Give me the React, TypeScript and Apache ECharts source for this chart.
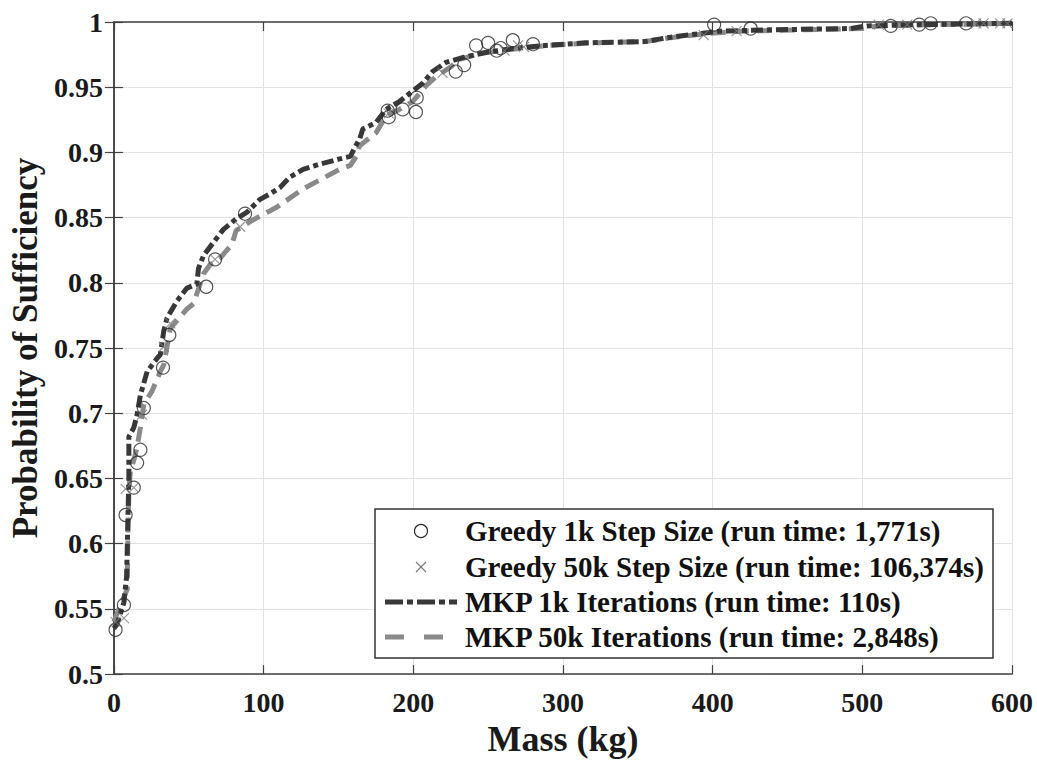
import React, { useEffect, useRef } from "react";
import * as echarts from "echarts";

const xTicks = [0, 100, 200, 300, 400, 500, 600];
const yTicks = [0.5, 0.55, 0.6, 0.65, 0.7, 0.75, 0.8, 0.85, 0.9, 0.95, 1];

const legendLabels = [
  "Greedy 1k Step Size (run time: 1,771s)",
  "Greedy 50k Step Size (run time: 106,374s)",
  "MKP 1k Iterations (run time: 110s)",
  "MKP 50k Iterations (run time: 2,848s)",
];

const mkp1k: [number, number][] = [
  [0, 0.535], [2, 0.538], [4, 0.545], [6.7, 0.555], [8.5, 0.575], [9.3, 0.615],
  [10, 0.651], [10, 0.682], [13.3, 0.689], [15.5, 0.699], [17.7, 0.714], [22.2, 0.732],
  [28.8, 0.742], [31, 0.745], [33.3, 0.763], [35.5, 0.773], [42.1, 0.786], [48.8, 0.796],
  [55.4, 0.799], [56.5, 0.811], [59.9, 0.821], [66.5, 0.831], [73.2, 0.841], [81.6, 0.849],
  [88.7, 0.854], [97.6, 0.864], [104, 0.868], [110.9, 0.873], [117.5, 0.881], [126.4, 0.887],
  [137.5, 0.891], [150.8, 0.895], [158, 0.897], [161, 0.904], [164.1, 0.91], [166.3, 0.918],
  [175.1, 0.923], [181.8, 0.933], [190.7, 0.939], [199.6, 0.947], [206.3, 0.953], [212.9, 0.962],
  [221.8, 0.969], [234, 0.973], [250, 0.977], [269, 0.98], [288, 0.982], [315, 0.984],
  [355, 0.985], [370, 0.988], [391, 0.991], [405, 0.993], [438, 0.994], [492, 0.995],
  [503, 0.997], [540, 0.998], [600, 0.999],
];

const mkp50k: [number, number][] = [
  [0, 0.54], [4.4, 0.553], [8.9, 0.565], [9.3, 0.605], [10, 0.64], [11, 0.656],
  [13.3, 0.664], [15.5, 0.674], [17.7, 0.689], [20, 0.707], [25.5, 0.717], [31, 0.732],
  [33.3, 0.737], [37.7, 0.765], [48.8, 0.78], [53.2, 0.784], [59.9, 0.807], [64.3, 0.814],
  [71, 0.819], [75.4, 0.825], [78.7, 0.829], [81.6, 0.84], [91, 0.847], [108.7, 0.858],
  [126.4, 0.872], [144.2, 0.883], [150.8, 0.887], [158, 0.89], [161.9, 0.897], [164.1, 0.905],
  [175.1, 0.915], [181.8, 0.928], [190.7, 0.933], [199.6, 0.939], [208.4, 0.951], [215.1, 0.958],
  [225.5, 0.966], [230, 0.971], [245, 0.976], [265, 0.979], [290, 0.982], [320, 0.984],
  [355, 0.985], [372, 0.988], [395, 0.991], [420, 0.993], [460, 0.994], [500, 0.995],
  [510, 0.997], [550, 0.998], [600, 0.999],
];

const greedy1k: [number, number][] = [
  [1.1, 0.534], [6.7, 0.553], [7.8, 0.622], [13.3, 0.643], [15.5, 0.662], [17.7, 0.672],
  [20, 0.704], [32.8, 0.735], [37, 0.76], [61.7, 0.797], [67.6, 0.818], [87.6, 0.853],
  [182.9, 0.932], [183.6, 0.927], [192.9, 0.933], [202.3, 0.942], [201.8, 0.931],
  [228.4, 0.962], [234, 0.967], [242, 0.982], [250, 0.984], [255.7, 0.978], [258.4, 0.98],
  [266.5, 0.986], [280, 0.983], [401, 0.998], [425.4, 0.995], [519, 0.997], [538, 0.998],
  [545.7, 0.999], [569.3, 0.999],
];

const greedy50k: [number, number][] = [
  [1.1, 0.54], [6.7, 0.543], [7.8, 0.642], [13.3, 0.643], [18.8, 0.699], [33.3, 0.751],
  [37.7, 0.769], [67.6, 0.818], [84.3, 0.843], [183.6, 0.93], [219.6, 0.961], [261, 0.978],
  [270, 0.982], [274, 0.981], [394, 0.99], [416, 0.993], [511, 0.998], [530, 0.998],
  [576, 0.999], [581, 0.999], [592, 0.999], [597, 0.999],
];

const FONT = '"Liberation Serif", "Times New Roman", serif';
const DARK = "#383838";
const GRAY = "#8a8a8a";
const AXIS = "#404040";

export default function App() {
  const ref = useRef<HTMLDivElement>(null);
  useEffect(() => {
    if (!ref.current) return;
    const chart = echarts.init(ref.current, undefined, { renderer: "svg" });
    const xMin = xTicks[0];
    const xMax = xTicks[xTicks.length - 1];
    const xInt = xTicks[1] - xTicks[0];
    const yMin = yTicks[0];
    const yMax = yTicks[yTicks.length - 1];
    const yInt = 0.05;

    const baseAxisLine = { show: true, lineStyle: { color: AXIS, width: 1.5 } };
    const tickInside = { show: true, inside: true, length: 9, lineStyle: { color: AXIS, width: 1.2 } };
    const labelStyle = { fontFamily: FONT, fontWeight: "bold" as const, fontSize: 28, color: "#1a1a1a" };

    const legendX = 375, legendY = 509, legendW = 618, legendH = 149;
    const rowY = [531, 567, 602, 637];
    const textX = 465;

    chart.setOption({
      animation: false,
      backgroundColor: "#ffffff",
      grid: { left: 110, right: 25, top: 22, bottom: 84, containLabel: false },
      xAxis: [
        {
          type: "value", min: xMin, max: xMax, interval: xInt,
          name: "Mass (kg)", nameLocation: "middle", nameGap: 43,
          nameTextStyle: { fontFamily: FONT, fontWeight: "bold", fontSize: 36, color: "#1a1a1a" },
          axisLine: baseAxisLine, axisTick: tickInside,
          axisLabel: { ...labelStyle, margin: 14, formatter: (v: number) => String(v) },
          splitLine: { show: true, lineStyle: { color: "#e2e2e2", width: 1 } },
        },
        {
          type: "value", position: "top", min: xMin, max: xMax, interval: xInt,
          axisLine: baseAxisLine, axisTick: tickInside, axisLabel: { show: false },
          splitLine: { show: false },
        },
      ],
      yAxis: [
        {
          type: "value", min: yMin, max: yMax, interval: yInt,
          name: "Probability of Sufficiency", nameLocation: "middle", nameGap: 63,
          nameTextStyle: { fontFamily: FONT, fontWeight: "bold", fontSize: 35, color: "#1a1a1a" },
          axisLine: baseAxisLine, axisTick: tickInside,
          axisLabel: {
            ...labelStyle, margin: 11,
            formatter: (v: number) => String(parseFloat(v.toFixed(2))),
          },
          splitLine: { show: true, lineStyle: { color: "#e2e2e2", width: 1 } },
        },
        {
          type: "value", position: "right", min: yMin, max: yMax, interval: yInt,
          axisLine: baseAxisLine, axisTick: tickInside, axisLabel: { show: false },
          splitLine: { show: false },
        },
      ],
      series: [
        {
          name: legendLabels[3], type: "line", data: mkp50k, showSymbol: false, symbol: "none",
          xAxisIndex: 0, yAxisIndex: 0, z: 2,
          lineStyle: { color: GRAY, width: 5, type: [15, 8] },
        },
        {
          name: legendLabels[2], type: "line", data: mkp1k, showSymbol: false, symbol: "none",
          xAxisIndex: 0, yAxisIndex: 0, z: 3,
          lineStyle: { color: DARK, width: 5, type: [12, 4, 5, 4] },
        },
        {
          name: legendLabels[0], type: "scatter", data: greedy1k, symbol: "circle", symbolSize: 13,
          xAxisIndex: 0, yAxisIndex: 0, z: 4,
          itemStyle: { color: "rgba(0,0,0,0)", borderColor: "#2a2a2a", borderWidth: 1.2 },
        },
        {
          name: legendLabels[1], type: "scatter", data: greedy50k,
          symbol: "path://M0,0L10,10M10,0L0,10", symbolSize: 10,
          xAxisIndex: 0, yAxisIndex: 0, z: 4,
          itemStyle: { color: "rgba(0,0,0,0)", borderColor: "#7a7a7a", borderWidth: 1.1 },
        },
      ],
      graphic: [
        {
          type: "rect", z: 100,
          shape: { x: legendX, y: legendY, width: legendW, height: legendH },
          style: { fill: "#ffffff", stroke: "#333333", lineWidth: 1.5 },
        },
        {
          type: "circle", z: 101,
          shape: { cx: 421, cy: rowY[0], r: 6.5 },
          style: { fill: "none", stroke: "#2a2a2a", lineWidth: 1.2 },
        },
        {
          type: "line", z: 101,
          shape: { x1: 416, y1: rowY[1] - 5, x2: 426, y2: rowY[1] + 5 },
          style: { stroke: "#7a7a7a", lineWidth: 1.1 },
        },
        {
          type: "line", z: 101,
          shape: { x1: 426, y1: rowY[1] - 5, x2: 416, y2: rowY[1] + 5 },
          style: { stroke: "#7a7a7a", lineWidth: 1.1 },
        },
        {
          type: "line", z: 101,
          shape: { x1: 385, y1: rowY[2], x2: 457, y2: rowY[2] },
          style: { stroke: DARK, lineWidth: 5, lineDash: [18, 4, 6, 4] },
        },
        {
          type: "line", z: 101,
          shape: { x1: 385, y1: rowY[3], x2: 457, y2: rowY[3] },
          style: { stroke: GRAY, lineWidth: 5, lineDash: [19, 20] },
        },
        ...legendLabels.map((t, i) => ({
          type: "text", z: 101, x: textX, y: rowY[i],
          style: {
            text: t, fill: "#111111", font: `bold 29px ${FONT}`,
            verticalAlign: "middle", align: "left",
          },
        })),
      ],
    });
    return () => chart.dispose();
  }, []);
  return (
    <div
      ref={ref}
      style={{ position: "fixed", left: 0, top: 0, width: 1037, height: 762, background: "#fff" }}
    />
  );
}
